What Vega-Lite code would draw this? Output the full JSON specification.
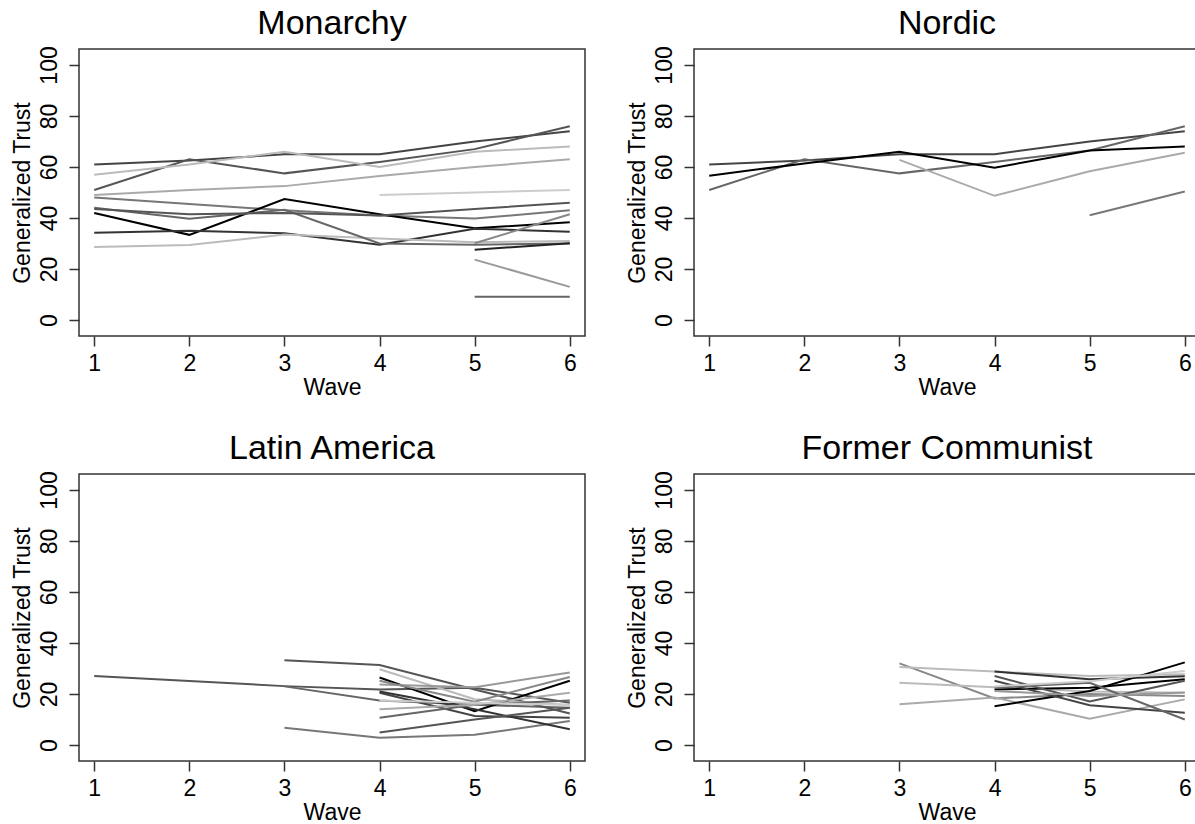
{
  "$schema": "https://vega.github.io/schema/vega-lite/v6.json",
  "padding": {"left": 10, "top": 6, "right": 0, "bottom": 0},
  "background": "white",
  "columns": 2,
  "bounds": "flush",
  "spacing": {"row": 138, "column": 109},
  "resolve": {"scale": {"color": "independent"}},
  "config": {
    "view": {"stroke": "#333", "strokeWidth": 1.5},
    "font": "Liberation Sans",
    "axis": {"domain": false, "grid": false, "tickColor": "#333", "tickWidth": 1.5, "tickSize": 10,
             "labelFont": "Liberation Sans", "labelFontSize": 23, "labelColor": "#000",
             "titleFont": "Liberation Sans", "titleFontSize": 23, "titleFontWeight": "normal", "titleColor": "#000"},
    "title": {"font": "Liberation Sans", "fontSize": 34, "fontWeight": "normal", "color": "#000", "offset": 5}
  },
  "data": {"values": [
    {"p":"M","id":"M1","w":1,"v":61},{"p":"M","id":"M1","w":2,"v":62.5},{"p":"M","id":"M1","w":3,"v":65},{"p":"M","id":"M1","w":4,"v":65},{"p":"M","id":"M1","w":5,"v":70},{"p":"M","id":"M1","w":6,"v":74},
    {"p":"M","id":"M2","w":1,"v":51},{"p":"M","id":"M2","w":2,"v":63},{"p":"M","id":"M2","w":3,"v":57.5},{"p":"M","id":"M2","w":4,"v":62},{"p":"M","id":"M2","w":5,"v":67},{"p":"M","id":"M2","w":6,"v":76},
    {"p":"M","id":"M3","w":1,"v":57},{"p":"M","id":"M3","w":2,"v":61},{"p":"M","id":"M3","w":3,"v":66},{"p":"M","id":"M3","w":4,"v":60},{"p":"M","id":"M3","w":5,"v":66},{"p":"M","id":"M3","w":6,"v":68},
    {"p":"M","id":"M4","w":1,"v":49},{"p":"M","id":"M4","w":2,"v":51},{"p":"M","id":"M4","w":3,"v":52.5},{"p":"M","id":"M4","w":4,"v":56.5},{"p":"M","id":"M4","w":5,"v":60},{"p":"M","id":"M4","w":6,"v":63},
    {"p":"M","id":"M5","w":4,"v":49},{"p":"M","id":"M5","w":5,"v":50},{"p":"M","id":"M5","w":6,"v":51},
    {"p":"M","id":"M6","w":1,"v":48},{"p":"M","id":"M6","w":2,"v":45.5},{"p":"M","id":"M6","w":3,"v":43},{"p":"M","id":"M6","w":4,"v":41},{"p":"M","id":"M6","w":5,"v":39.8},{"p":"M","id":"M6","w":6,"v":43},
    {"p":"M","id":"M7","w":1,"v":42},{"p":"M","id":"M7","w":2,"v":33.4},{"p":"M","id":"M7","w":3,"v":47.4},{"p":"M","id":"M7","w":4,"v":41.5},{"p":"M","id":"M7","w":5,"v":36},{"p":"M","id":"M7","w":6,"v":38.3},
    {"p":"M","id":"M8","w":1,"v":34.2},{"p":"M","id":"M8","w":2,"v":35},{"p":"M","id":"M8","w":3,"v":34},{"p":"M","id":"M8","w":4,"v":29.5},{"p":"M","id":"M8","w":5,"v":35.8},{"p":"M","id":"M8","w":6,"v":34.6},
    {"p":"M","id":"M9","w":1,"v":28.6},{"p":"M","id":"M9","w":2,"v":29.4},{"p":"M","id":"M9","w":3,"v":33.5},{"p":"M","id":"M9","w":4,"v":32},{"p":"M","id":"M9","w":5,"v":30.5},{"p":"M","id":"M9","w":6,"v":31},
    {"p":"M","id":"M10","w":1,"v":44},{"p":"M","id":"M10","w":2,"v":39.7},{"p":"M","id":"M10","w":3,"v":43.2},{"p":"M","id":"M10","w":4,"v":30},{"p":"M","id":"M10","w":5,"v":29.5},{"p":"M","id":"M10","w":6,"v":30},
    {"p":"M","id":"M15","w":1,"v":43.5},{"p":"M","id":"M15","w":2,"v":41.5},{"p":"M","id":"M15","w":3,"v":42},{"p":"M","id":"M15","w":4,"v":41},{"p":"M","id":"M15","w":5,"v":43.5},{"p":"M","id":"M15","w":6,"v":46},
    {"p":"M","id":"M11","w":5,"v":23.7},{"p":"M","id":"M11","w":6,"v":13},
    {"p":"M","id":"M12","w":5,"v":9.1},{"p":"M","id":"M12","w":6,"v":9.1},
    {"p":"M","id":"M13","w":5,"v":27.6},{"p":"M","id":"M13","w":6,"v":30.1},
    {"p":"M","id":"M14","w":5,"v":30.1},{"p":"M","id":"M14","w":6,"v":41.5},

    {"p":"N","id":"N1","w":1,"v":61},{"p":"N","id":"N1","w":2,"v":62.5},{"p":"N","id":"N1","w":3,"v":65},{"p":"N","id":"N1","w":4,"v":65},{"p":"N","id":"N1","w":5,"v":70},{"p":"N","id":"N1","w":6,"v":74},
    {"p":"N","id":"N2","w":1,"v":51},{"p":"N","id":"N2","w":2,"v":63},{"p":"N","id":"N2","w":3,"v":57.5},{"p":"N","id":"N2","w":4,"v":62},{"p":"N","id":"N2","w":5,"v":66.5},{"p":"N","id":"N2","w":6,"v":76},
    {"p":"N","id":"N3","w":1,"v":56.6},{"p":"N","id":"N3","w":2,"v":61.4},{"p":"N","id":"N3","w":3,"v":66},{"p":"N","id":"N3","w":4,"v":59.7},{"p":"N","id":"N3","w":5,"v":66.5},{"p":"N","id":"N3","w":6,"v":68},
    {"p":"N","id":"N4","w":3,"v":62.8},{"p":"N","id":"N4","w":4,"v":48.7},{"p":"N","id":"N4","w":5,"v":58.3},{"p":"N","id":"N4","w":6,"v":65.6},
    {"p":"N","id":"N5","w":5,"v":41.1},{"p":"N","id":"N5","w":6,"v":50.4},

    {"p":"L","id":"L1","w":1,"v":27.1},{"p":"L","id":"L1","w":3,"v":23.1},{"p":"L","id":"L1","w":4,"v":21.8},{"p":"L","id":"L1","w":5,"v":22.5},{"p":"L","id":"L1","w":6,"v":16.6},
    {"p":"L","id":"L2","w":3,"v":23},{"p":"L","id":"L2","w":4,"v":17.5},{"p":"L","id":"L2","w":5,"v":15.8},{"p":"L","id":"L2","w":6,"v":14.6},
    {"p":"L","id":"L3","w":3,"v":33.2},{"p":"L","id":"L3","w":4,"v":31.4},{"p":"L","id":"L3","w":5,"v":21.8},{"p":"L","id":"L3","w":6,"v":12.4},
    {"p":"L","id":"L4","w":3,"v":6.8},{"p":"L","id":"L4","w":4,"v":2.9},{"p":"L","id":"L4","w":5,"v":4.0},{"p":"L","id":"L4","w":6,"v":9.4},
    {"p":"L","id":"L5","w":4,"v":29.7},{"p":"L","id":"L5","w":5,"v":18},{"p":"L","id":"L5","w":6,"v":15.7},
    {"p":"L","id":"L6","w":4,"v":26.5},{"p":"L","id":"L6","w":5,"v":13.3},{"p":"L","id":"L6","w":6,"v":25.2},
    {"p":"L","id":"L7","w":4,"v":23.7},{"p":"L","id":"L7","w":5,"v":22.7},{"p":"L","id":"L7","w":6,"v":28.4},
    {"p":"L","id":"L8","w":4,"v":25.2},{"p":"L","id":"L8","w":5,"v":17},{"p":"L","id":"L8","w":6,"v":26.7},
    {"p":"L","id":"L9","w":4,"v":20.5},{"p":"L","id":"L9","w":5,"v":11.4},{"p":"L","id":"L9","w":6,"v":10.7},
    {"p":"L","id":"L10","w":4,"v":21},{"p":"L","id":"L10","w":5,"v":14},{"p":"L","id":"L10","w":6,"v":6.2},
    {"p":"L","id":"L11","w":4,"v":10.7},{"p":"L","id":"L11","w":5,"v":15.8},{"p":"L","id":"L11","w":6,"v":17.5},
    {"p":"L","id":"L12","w":4,"v":4.9},{"p":"L","id":"L12","w":5,"v":10},{"p":"L","id":"L12","w":6,"v":14.6},
    {"p":"L","id":"L13","w":4,"v":14},{"p":"L","id":"L13","w":5,"v":15.8},{"p":"L","id":"L13","w":6,"v":20.5},
    {"p":"L","id":"L14","w":4,"v":17.5},{"p":"L","id":"L14","w":5,"v":16.6},{"p":"L","id":"L14","w":6,"v":15.7},

    {"p":"F","id":"F1","w":3,"v":32},{"p":"F","id":"F1","w":4,"v":18.3},{"p":"F","id":"F1","w":5,"v":20},{"p":"F","id":"F1","w":6,"v":19.2},
    {"p":"F","id":"F2","w":3,"v":30.6},{"p":"F","id":"F2","w":4,"v":28.8},{"p":"F","id":"F2","w":5,"v":27.1},{"p":"F","id":"F2","w":6,"v":27.8},
    {"p":"F","id":"F3","w":3,"v":24.4},{"p":"F","id":"F3","w":4,"v":22.7},{"p":"F","id":"F3","w":5,"v":21},{"p":"F","id":"F3","w":6,"v":20.5},
    {"p":"F","id":"F4","w":3,"v":16},{"p":"F","id":"F4","w":4,"v":18.6},{"p":"F","id":"F4","w":5,"v":10.3},{"p":"F","id":"F4","w":6,"v":17.9},
    {"p":"F","id":"F5","w":4,"v":28.8},{"p":"F","id":"F5","w":5,"v":25.8},{"p":"F","id":"F5","w":6,"v":27},
    {"p":"F","id":"F6","w":4,"v":21.8},{"p":"F","id":"F6","w":5,"v":22.5},{"p":"F","id":"F6","w":6,"v":25.8},
    {"p":"F","id":"F7","w":4,"v":15.2},{"p":"F","id":"F7","w":5,"v":21.2},{"p":"F","id":"F7","w":6,"v":32.4},
    {"p":"F","id":"F8","w":4,"v":27.1},{"p":"F","id":"F8","w":5,"v":17.1},{"p":"F","id":"F8","w":6,"v":25.2},
    {"p":"F","id":"F9","w":4,"v":25.2},{"p":"F","id":"F9","w":5,"v":15.6},{"p":"F","id":"F9","w":6,"v":12.7},
    {"p":"F","id":"F10","w":4,"v":22.5},{"p":"F","id":"F10","w":5,"v":24.4},{"p":"F","id":"F10","w":6,"v":10},
    {"p":"F","id":"F11","w":4,"v":21.2},{"p":"F","id":"F11","w":5,"v":19.2},{"p":"F","id":"F11","w":6,"v":20.6},
    {"p":"F","id":"F12","w":4,"v":23},{"p":"F","id":"F12","w":5,"v":25},{"p":"F","id":"F12","w":6,"v":29}
  ]},
  "concat": [
    {
      "title": "Monarchy",
      "width": 506, "height": 287,
      "transform": [{"filter": "datum.p == 'M'"}],
      "mark": {"type": "line", "strokeWidth": 2, "clip": true},
      "encoding": {
        "x": {"field": "w", "type": "quantitative", "scale": {"domain": [0.84, 6.16], "nice": false, "zero": false},
              "axis": {"values": [1,2,3,4,5,6], "format": "d", "title": "Wave", "labelPadding": 6, "titlePadding": 1}},
        "y": {"field": "v", "type": "quantitative", "scale": {"domain": [-6.25, 106.25], "nice": false, "zero": false},
              "axis": {"values": [0,20,40,60,80,100], "format": "d", "title": "Generalized Trust", "labelAngle": -90, "labelAlign": "center", "labelBaseline": "bottom", "labelPadding": 8, "titlePadding": 4}},
        "detail": {"field": "id"},
        "color": {"field": "id", "type": "nominal", "legend": null,
                  "scale": {"domain": ["M1","M2","M3","M4","M5","M6","M7","M8","M9","M10","M15","M11","M12","M13","M14"],
                            "range": ["#444444","#555555","#bbbbbb","#aaaaaa","#cccccc","#777777","#000000","#333333","#bbbbbb","#666666","#555555","#999999","#666666","#222222","#888888"]}}
      }
    },
    {
      "title": "Nordic",
      "width": 506, "height": 287,
      "transform": [{"filter": "datum.p == 'N'"}],
      "mark": {"type": "line", "strokeWidth": 2, "clip": true},
      "encoding": {
        "x": {"field": "w", "type": "quantitative", "scale": {"domain": [0.84, 6.16], "nice": false, "zero": false},
              "axis": {"values": [1,2,3,4,5,6], "format": "d", "title": "Wave", "labelPadding": 6, "titlePadding": 1}},
        "y": {"field": "v", "type": "quantitative", "scale": {"domain": [-6.25, 106.25], "nice": false, "zero": false},
              "axis": {"values": [0,20,40,60,80,100], "format": "d", "title": "Generalized Trust", "labelAngle": -90, "labelAlign": "center", "labelBaseline": "bottom", "labelPadding": 8, "titlePadding": 4}},
        "detail": {"field": "id"},
        "color": {"field": "id", "type": "nominal", "legend": null,
                  "scale": {"domain": ["N1","N2","N3","N4","N5"],
                            "range": ["#444444","#666666","#000000","#aaaaaa","#777777"]}}
      }
    },
    {
      "title": "Latin America",
      "width": 506, "height": 287,
      "transform": [{"filter": "datum.p == 'L'"}],
      "mark": {"type": "line", "strokeWidth": 2, "clip": true},
      "encoding": {
        "x": {"field": "w", "type": "quantitative", "scale": {"domain": [0.84, 6.16], "nice": false, "zero": false},
              "axis": {"values": [1,2,3,4,5,6], "format": "d", "title": "Wave", "labelPadding": 6, "titlePadding": 1}},
        "y": {"field": "v", "type": "quantitative", "scale": {"domain": [-6.25, 106.25], "nice": false, "zero": false},
              "axis": {"values": [0,20,40,60,80,100], "format": "d", "title": "Generalized Trust", "labelAngle": -90, "labelAlign": "center", "labelBaseline": "bottom", "labelPadding": 8, "titlePadding": 4}},
        "detail": {"field": "id"},
        "color": {"field": "id", "type": "nominal", "legend": null,
                  "scale": {"domain": ["L1","L2","L3","L4","L5","L6","L7","L8","L9","L10","L11","L12","L13","L14"],
                            "range": ["#555555","#666666","#555555","#777777","#bbbbbb","#000000","#999999","#888888","#444444","#333333","#666666","#555555","#aaaaaa","#cccccc"]}}
      }
    },
    {
      "title": "Former Communist",
      "width": 506, "height": 287,
      "transform": [{"filter": "datum.p == 'F'"}],
      "mark": {"type": "line", "strokeWidth": 2, "clip": true},
      "encoding": {
        "x": {"field": "w", "type": "quantitative", "scale": {"domain": [0.84, 6.16], "nice": false, "zero": false},
              "axis": {"values": [1,2,3,4,5,6], "format": "d", "title": "Wave", "labelPadding": 6, "titlePadding": 1}},
        "y": {"field": "v", "type": "quantitative", "scale": {"domain": [-6.25, 106.25], "nice": false, "zero": false},
              "axis": {"values": [0,20,40,60,80,100], "format": "d", "title": "Generalized Trust", "labelAngle": -90, "labelAlign": "center", "labelBaseline": "bottom", "labelPadding": 8, "titlePadding": 4}},
        "detail": {"field": "id"},
        "color": {"field": "id", "type": "nominal", "legend": null,
                  "scale": {"domain": ["F1","F2","F3","F4","F5","F6","F7","F8","F9","F10","F11","F12"],
                            "range": ["#888888","#bbbbbb","#bbbbbb","#aaaaaa","#333333","#000000","#000000","#555555","#444444","#666666","#999999","#cccccc"]}}
      }
    }
  ]
}
